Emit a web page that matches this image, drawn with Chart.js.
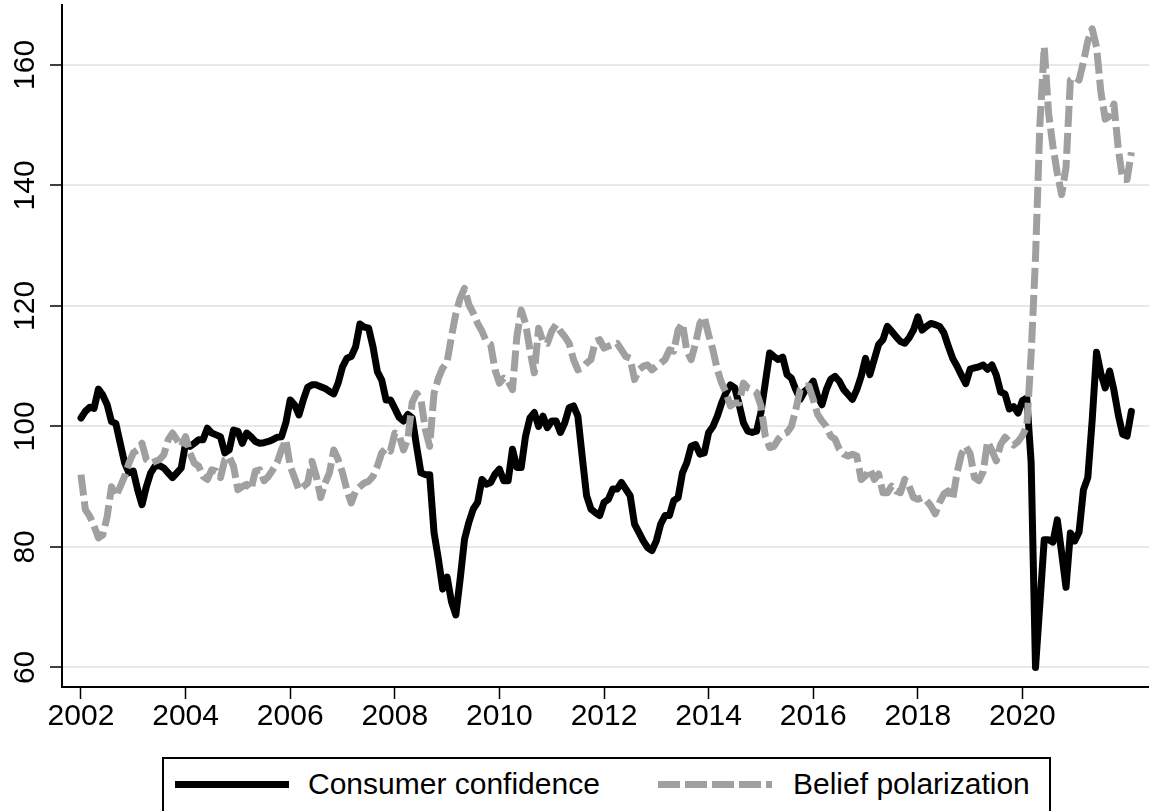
<!DOCTYPE html>
<html>
<head>
<meta charset="utf-8">
<title>Consumer confidence and belief polarization</title>
<script src="https://cdn.jsdelivr.net/npm/chart.js@4.4.1/dist/chart.umd.min.js"></script>
<style>
    html, body { margin: 0; padding: 0; background: #fff; }
    body { width: 1149px; height: 811px; overflow: hidden; position: relative; }
    #chart { position: absolute; left: 0; top: 0; }
    .legend {
        position: absolute; left: 162px; top: 757px; width: 885px; height: 80px;
        border: 2px solid #000; background: #fff;
        font-family: "Liberation Sans", Arial, sans-serif; font-size: 30px; line-height: 36px; color: #000;
    }
    .legend .sample { position: absolute; top: 22px; height: 7px; width: 114px; }
    .legend .solid { left: 11px; background: #000; }
    .legend .dashed { left: 494px; background: repeating-linear-gradient(to right, #a0a0a0 0 22px, transparent 22px 27px); }
    .legend .label { position: absolute; top: 7px; white-space: nowrap; }
</style>
</head>
<body>
<canvas id="chart" width="1149" height="811"></canvas>
<div class="legend">
    <div class="sample solid"></div><span class="label" id="name0" style="left:144px"></span>
    <div class="sample dashed"></div><span class="label" id="name1" style="left:629px"></span>
</div>
<script>
// monthly series, January 2002 onward
const START_YEAR = 2002;
const SERIES_NAMES = ['Consumer confidence', 'Belief polarization'];
const X_TICKS = [2002, 2004, 2006, 2008, 2010, 2012, 2014, 2016, 2018, 2020];
const Y_TICKS = [60, 80, 100, 120, 140, 160];

const CONFIDENCE = [
    101.4, 102.5, 103.2, 103, 106.2, 105.2, 103.6, 100.8, 100.5, 97.2,
    94, 92.3, 92.6, 89.5, 87, 90, 92.3, 93.4, 93.5, 93.1,
    92.3, 91.5, 92.3, 93.1, 97.2, 96.7, 97.2, 97.8, 97.8, 99.7,
    98.9, 98.6, 98.3, 95.6, 96.1, 99.4, 99.2, 97.2, 98.9, 98.3,
    97.5, 97.2, 97.3, 97.5, 97.8, 98.2, 98.3, 100.6, 104.4, 103.6,
    101.9, 104.4, 106.5, 106.9, 106.9, 106.6, 106.3, 105.8, 105.4, 107.2,
    109.9, 111.3, 111.6, 113.2, 117, 116.5, 116.3, 113.2, 109.1, 107.7,
    104.4, 104.4, 103, 101.5, 100.9, 102, 101.4, 96.7, 92.3, 92,
    92, 82.4, 78, 73, 75, 70.9, 68.7, 74.7, 81.3, 84.1,
    86.3, 87.4, 91.2, 90.4, 90.7, 92.1, 92.9, 91, 91, 96.2,
    93.2, 93.2, 98.4, 101.4, 102.3, 100, 101.7, 99.8, 100.9, 100.9,
    99, 100.6, 103.1, 103.4, 101.7, 95, 88.5, 86.3, 85.7, 85.2,
    87.4, 87.9, 89.6, 89.6, 90.7, 89.6, 88.5, 83.8, 82.4, 81,
    79.9, 79.4, 81, 83.8, 85.2, 85.2, 87.7, 88.2, 92.3, 94,
    96.7, 97, 95.4, 95.6, 99, 100, 101.7, 103.9, 105.6, 106.9,
    106.4, 103.6, 100.6, 99.2, 99, 99.2, 102.3, 107.2, 112.2, 111.6,
    111.1, 111.5, 108.6, 108, 106.1, 104.5, 105.8, 106.4, 107.5, 105,
    103.6, 106.1, 107.8, 108.3, 107.5, 106.1, 105.3, 104.5, 106.1, 108.3,
    111.3, 108.6, 111.1, 113.6, 114.4, 116.6, 115.8, 114.9, 114.1, 113.8,
    114.7, 116, 118.2, 116, 116.6, 117.1, 116.9, 116.6, 115.5, 113.3,
    111.3, 110, 108.5, 107.1, 109.5, 109.7, 109.9, 110.2, 109.5, 110.2,
    108.5, 105.7, 105.4, 102.9, 103.3, 102.2, 104.3, 104.7, 94, 60,
    70.5, 81.2, 81.2, 80.8, 84.5, 79, 73.3, 82.3, 81, 82.5,
    89.5, 91.5, 101, 112.3, 108.8, 106.4, 109.2, 106, 101.9, 98.7,
    98.4, 102.5
];

const POLARIZATION = [
    92, 86.2, 85.1, 83.5, 81.5, 82, 85, 90, 88.4, 90,
    91.7, 93.9, 95.6, 96.1, 97.2, 94.5, 93.9, 94.2, 94.5, 95.3,
    97.8, 98.9, 97.8, 96.7, 98.3, 95.6, 93.9, 93.4, 91.7, 91.2,
    92.8, 92.6, 91.5, 94.5, 95, 93.4, 89.5, 90, 90.4, 89.5,
    92.6, 92.8, 91, 91.7, 92.8, 94, 96.1, 97.8, 93.4, 91.5,
    89.5, 90, 90.6, 94.2, 91.7, 88.2, 90.6, 92.3, 96.1, 94.5,
    92.3, 89.5, 87.3, 89.3, 90, 90.6, 90.9, 91.7, 93.4, 95.6,
    96.4, 95.9, 98.9, 98.5, 96.1, 98, 104, 105.5, 104.5, 99.5,
    96.7, 105.5, 108, 109.7, 110.7, 114.9, 118.7, 121.3, 122.9, 120.2,
    118.8, 117.1, 115.8, 114.1, 113.6, 109.4, 107.2, 108, 107.5, 106.1,
    114.9, 119.3, 117.1, 112.7, 108.9, 116.3, 114.1, 113.8, 115.8, 116.9,
    115.8, 114.9, 113.8, 111.1, 109.4, 109.7, 110.5, 111.1, 114.1, 114.4,
    113, 113.3, 113.6, 113.8, 112.7, 111.6, 111.3, 107.8, 109.4, 110,
    110.2, 109.4, 110, 110.5, 111.1, 112.7, 112.5, 116, 117.1, 112.5,
    111.1, 113.8, 117.1, 118.2, 115.2, 112.7, 109.4, 107.2, 105.6, 103.4,
    103.9, 103.9, 107.2, 106.4, 106.1, 105.6, 103.4, 98.4, 96.5, 96.7,
    97.9, 98.7, 99, 100, 102.8, 106.1, 106.7, 106.7, 104.5, 102,
    100.9, 100, 98.4, 97.9, 96.2, 95.4, 95.1, 95.4, 95.1, 91.2,
    91.8, 92.9, 91.2, 92.1, 89, 89, 90.1, 89.3, 89, 91.2,
    90.1, 88.2, 87.9, 88.2, 87.7, 86.8, 85.5, 87.4, 88.8, 89.3,
    87.9, 92.3, 95.4, 96.7, 95.5, 91.5, 91, 92.5, 97.5, 96,
    94.3, 97, 98.2, 97.5, 96.9, 97.5, 98.5, 100, 112, 128,
    150, 163, 152, 146.5, 142, 138.5, 143, 157.5, 158, 157.5,
    160.5, 164, 166, 163, 155.5, 151, 151.5, 153.5, 146, 141,
    141, 145.5
];

const FONT = '"Liberation Sans", Arial, sans-serif';
const GREY = '#a0a0a0';

function toPoints(values) {
    return values.map((v, i) => ({ x: START_YEAR + i / 12, y: v }));
}

// y tick labels are drawn rotated, reading bottom to top
const rotatedYLabels = {
    id: 'rotatedYLabels',
    afterDraw(chart) {
        const { ctx, scales } = chart;
        ctx.save();
        ctx.fillStyle = '#000';
        ctx.font = '30px ' + FONT;
        ctx.textAlign = 'center';
        ctx.textBaseline = 'alphabetic';
        Y_TICKS.forEach(v => {
            const py = scales.y.getPixelForValue(v);
            ctx.save();
            ctx.translate(34, py);
            ctx.rotate(-Math.PI / 2);
            ctx.fillText(String(v), 0, 0);
            ctx.restore();
        });
        ctx.restore();
    }
};

document.getElementById('name0').textContent = SERIES_NAMES[0];
document.getElementById('name1').textContent = SERIES_NAMES[1];

new Chart(document.getElementById('chart').getContext('2d'), {
    type: 'line',
    data: {
        datasets: [
            {
                label: SERIES_NAMES[0],
                data: toPoints(CONFIDENCE),
                borderColor: '#000',
                borderWidth: 7,
                borderJoinStyle: 'round',
                borderCapStyle: 'round',
                pointRadius: 0,
                tension: 0,
                order: 1
            },
            {
                label: SERIES_NAMES[1],
                data: toPoints(POLARIZATION),
                borderColor: GREY,
                borderWidth: 7,
                borderDash: [21, 6],
                borderJoinStyle: 'round',
                borderCapStyle: 'butt',
                pointRadius: 0,
                tension: 0,
                order: 0
            }
        ]
    },
    options: {
        responsive: false,
        animation: false,
        layout: { padding: { top: 5, left: 0, right: 0, bottom: 0 } },
        plugins: { legend: { display: false }, tooltip: { enabled: false } },
        scales: {
            x: {
                type: 'linear',
                min: 2001.637,
                max: 2022.42,
                afterBuildTicks: scale => { scale.ticks = X_TICKS.map(v => ({ value: v })); },
                afterFit: scale => { scale.height = 124; },
                grid: { drawOnChartArea: false, drawTicks: true, tickLength: 12, tickColor: '#000', tickWidth: 1.5 },
                border: { color: '#000', width: 2 },
                ticks: {
                    padding: 0,
                    color: '#000',
                    font: { family: FONT, size: 30 },
                    maxRotation: 0,
                    callback: v => String(v)
                }
            },
            y: {
                min: 56.75,
                max: 169.95,
                afterBuildTicks: scale => { scale.ticks = Y_TICKS.map(v => ({ value: v })); },
                afterFit: scale => { scale.width = 62; },
                grid: { color: '#e8e8e8', lineWidth: 2, drawTicks: true, tickLength: 12, tickColor: '#000', tickWidth: 1.5 },
                border: { color: '#000', width: 2 },
                ticks: { display: false }
            }
        }
    },
    plugins: [rotatedYLabels]
});
</script>
</body>
</html>
